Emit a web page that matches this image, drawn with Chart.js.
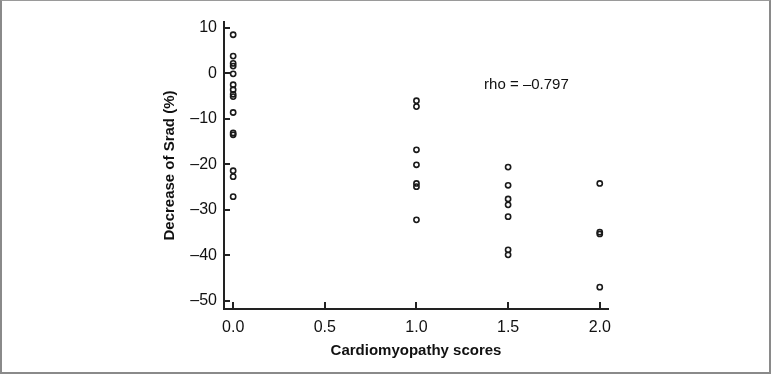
<!DOCTYPE html>
<html>
<head>
<meta charset="utf-8">
<script src="https://cdn.jsdelivr.net/npm/chart.js@4.4.0/dist/chart.umd.min.js"></script>
<style>
  body { margin: 0; background: #fff; }
  #wrap { position: relative; width: 771px; height: 374px; }
  #frame {
    position: absolute; left: 0; top: 0; width: 771px; height: 374px;
    box-sizing: border-box; pointer-events: none;
    border-left: 2px solid #8a8a8a; border-right: 2px solid #8a8a8a;
    border-bottom: 2px solid #8a8a8a; border-top: 1px solid #9a9a9a;
  }
</style>
</head>
<body>
<div id="wrap">
  <canvas id="chart" width="771" height="374"></canvas>
  <div id="frame"></div>
</div>
<script>
// cardiomyopathy score groups and the decrease of Srad (%) in each
var scoreGroups = [0, 1, 1.5, 2];
var sradScore0 = [8.5, 3.8, 2.2, 1.6, -0.1, -2.5, -3.6, -4.6, -5.1, -8.6, -13.1, -13.5, -21.4, -22.7, -27.1];
var sradScore1 = [-6.0, -7.3, -16.8, -20.1, -24.2, -24.9, -32.2];
var sradScore15 = [-20.6, -24.6, -27.6, -28.9, -31.5, -38.8, -39.9];
var sradScore2 = [-24.2, -34.9, -35.3, -47.0];
var xTicks = [0, 0.5, 1, 1.5, 2];
var yTicks = [-50, -40, -30, -20, -10, 0, 10];
var rhoLabel = 'rho = \u20130.797';

var groups = [sradScore0, sradScore1, sradScore15, sradScore2];
var points = [];
groups.forEach(function (vals, i) {
  vals.forEach(function (v) {
    points.push({ x: scoreGroups[i], y: v });
  });
});

var face = '"Liberation Sans", Arial, sans-serif';

// short tick marks pointing into the plot, plus the rho note
var innerTicks = {
  id: 'innerTicks',
  afterDraw: function (chart) {
    var c = chart.ctx;
    var xs = chart.scales.x, ys = chart.scales.y;
    var area = chart.chartArea;
    c.save();
    c.strokeStyle = '#222';
    c.lineWidth = 2;
    c.beginPath();
    yTicks.forEach(function (v) {
      var py = Math.round(ys.getPixelForValue(v));
      c.moveTo(area.left, py);
      c.lineTo(area.left + 6, py);
    });
    xTicks.forEach(function (v) {
      var px = Math.round(xs.getPixelForValue(v));
      c.moveTo(px, area.bottom);
      c.lineTo(px, area.bottom - 7);
    });
    c.stroke();

    c.fillStyle = '#111';
    c.font = '15px ' + face;
    c.textAlign = 'center';
    c.textBaseline = 'middle';
    c.fillText(rhoLabel, xs.getPixelForValue(1.6), ys.getPixelForValue(-2.5));
    c.restore();
  }
};

var ctx = document.getElementById('chart').getContext('2d');
var chart = new Chart(ctx, {
  type: 'scatter',
  data: {
    datasets: [{
      data: points,
      pointStyle: 'circle',
      pointRadius: 2.6,
      pointBorderWidth: 1.6,
      pointBorderColor: '#1a1a1a',
      pointBackgroundColor: 'rgba(0,0,0,0)'
    }]
  },
  options: {
    responsive: false,
    animation: false,
    devicePixelRatio: 1,
    layout: { padding: { left: 157, top: 22, right: 163, bottom: 10 } },
    plugins: {
      legend: { display: false },
      tooltip: { enabled: false }
    },
    scales: {
      x: {
        type: 'linear',
        min: -0.05,
        max: 2.045,
        afterBuildTicks: function (s) { s.ticks = xTicks.map(function (v) { return { value: v }; }); },
        afterFit: function (s) { s.height = 55; },
        grid: { drawOnChartArea: false, drawTicks: false },
        border: { display: true, color: '#222', width: 2 },
        ticks: {
          padding: 9,
          color: '#111',
          font: { family: face, size: 16 },
          callback: function (v) { return Number(v).toFixed(1); }
        },
        title: {
          display: true,
          text: 'Cardiomyopathy scores',
          color: '#111',
          padding: { top: 4, bottom: 4 },
          font: { family: face, size: 15, weight: 'bold' }
        }
      },
      y: {
        type: 'linear',
        min: -51.8,
        max: 11.3,
        afterBuildTicks: function (s) { s.ticks = yTicks.map(function (v) { return { value: v }; }); },
        afterFit: function (s) { s.width = 67; },
        grid: { drawOnChartArea: false, drawTicks: false },
        border: { display: true, color: '#222', width: 2 },
        ticks: {
          padding: 7,
          color: '#111',
          font: { family: face, size: 16 },
          callback: function (v) { return v < 0 ? '\u2013' + Math.abs(v) : String(v); }
        },
        title: {
          display: true,
          text: 'Decrease of Srad (%)',
          color: '#111',
          padding: { top: 4, bottom: 4 },
          font: { family: face, size: 15, weight: 'bold' }
        }
      }
    }
  },
  plugins: [innerTicks]
});
</script>
</body>
</html>
